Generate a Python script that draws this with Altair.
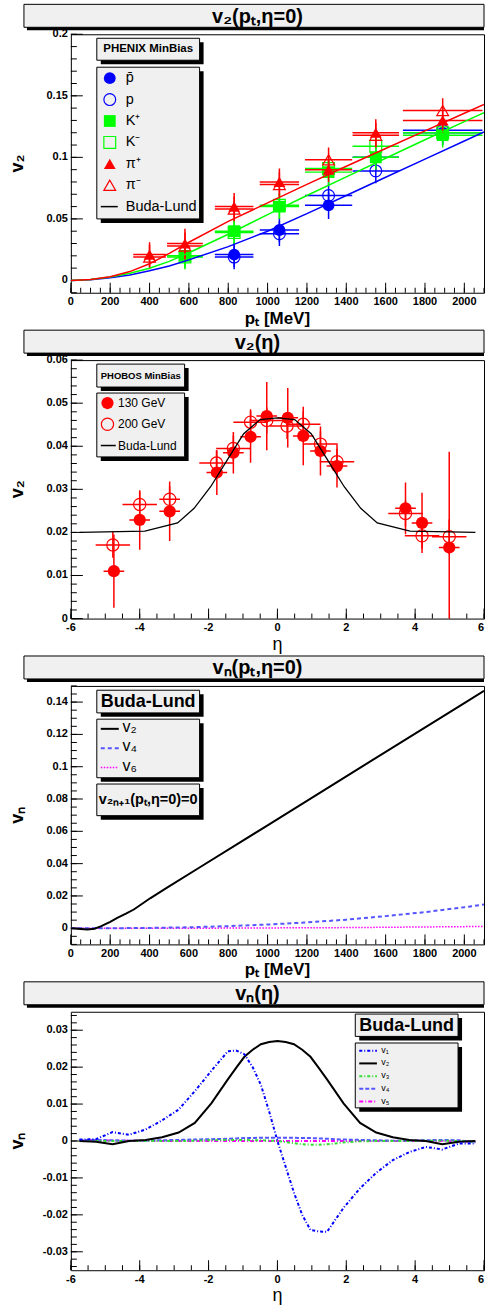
import altair as alt
import pandas as pd

FONT = "Liberation Sans"
W, H = 414, 259
GRAY = "#f0f0f0"
BLUE, GREEN, RED = "#0000ff", "#00ff00", "#ff0000"
ONE = pd.DataFrame({"k": [0]})

# ---------------- Panel 1 : v2(pt, eta=0), PHENIX ----------------
P1_PT = [400, 580, 830, 1060, 1310, 1550, 1890]
P1_PT_ERR = [83, 91, 98, 100, 120, 118, 202]
PIP_V2 = [0.021, 0.030, 0.060, 0.080, 0.090, 0.120, 0.130]
PIP_ERR = [0.010, 0.012, 0.011, 0.011, 0.010, 0.011, 0.010]
PIM_V2 = [0.019, 0.028, 0.058, 0.078, 0.098, 0.118, 0.138]
PIM_ERR = [0.010, 0.011, 0.010, 0.010, 0.010, 0.010, 0.010]
KP_V2 = [0.020, 0.040, 0.060, 0.088, 0.100, 0.118]
KP_ERR = [0.010, 0.010, 0.010, 0.010, 0.010, 0.010]
KM_V2 = [0.019, 0.039, 0.061, 0.091, 0.109, 0.120]
KM_ERR = [0.010, 0.010, 0.010, 0.010, 0.010, 0.010]
PBAR_V2 = [0.021, 0.041, 0.061, 0.100, 0.120]
PBAR_ERR = [0.010, 0.010, 0.011, 0.010, 0.010]
P_V2 = [0.019, 0.038, 0.069, 0.089, 0.122]
P_ERR = [0.010, 0.010, 0.011, 0.010, 0.010]
BL1_PT = [0, 100, 200, 300, 400, 500, 600, 800, 1000, 1200, 1400, 1600, 1800, 2000, 2100]
BL1_PI = [0, 0.0008, 0.003, 0.0072, 0.0135, 0.022, 0.031, 0.048, 0.063, 0.078, 0.0928, 0.1072, 0.1215, 0.1358, 0.143]
BL1_K = [0, 0.0007, 0.0028, 0.0058, 0.0099, 0.0155, 0.0225, 0.0375, 0.0535, 0.069, 0.0842, 0.0993, 0.1143, 0.129, 0.1363]
BL1_P = [0, 0.0005, 0.0022, 0.0045, 0.0078, 0.0118, 0.0167, 0.0275, 0.04, 0.0543, 0.069, 0.0838, 0.0986, 0.1133, 0.1207]
P1_LEGEND = ["p\u0304", "p", "K\u207a", "K\u207b", "\u03c0\u207a", "\u03c0\u207b", "Buda-Lund"]

# ---------------- Panel 2 : v2(eta), PHOBOS ----------------
ETA_130 = [-4.75, -4.0, -3.13, -1.76, -1.28, -0.78, -0.31, 0.30, 0.75, 1.25, 1.73, 3.72, 4.2, 4.99]
V2_130 = [0.0110, 0.0229, 0.0249, 0.0339, 0.0385, 0.0422, 0.0470, 0.0466, 0.0424, 0.0389, 0.0354, 0.0256, 0.0222, 0.0165]
ERR_130 = [0.0085, 0.0069, 0.0069, 0.0052, 0.0048, 0.0060, 0.0079, 0.0069, 0.0068, 0.0057, 0.0050, 0.0060, 0.0070, 0.0222]
ETAERR_130 = [0.3] * 14
ETA_200 = [-4.78, -4.0, -3.13, -1.77, -1.28, -0.78, -0.31, 0.28, 0.75, 1.25, 1.73, 3.72, 4.2, 4.99]
V2_200 = [0.0171, 0.0265, 0.0277, 0.0361, 0.0395, 0.0456, 0.0460, 0.0447, 0.0451, 0.0405, 0.0364, 0.0244, 0.0192, 0.0190]
ERR_200 = [0.003, 0.003, 0.003, 0.003, 0.003, 0.003, 0.003, 0.003, 0.003, 0.003, 0.003, 0.003, 0.003, 0.004]
ETAERR_200 = [0.5, 0.5, 0.3, 0.5, 0.5, 0.5, 0.5, 0.5, 0.5, 0.5, 0.5, 0.5, 0.5, 0.5]
BL2_ETA = [-5.75, -3.85, -2.9, -2.42, -1.94, -1.46, -0.98, -0.5, 0, 0.5, 0.98, 1.46, 1.94, 2.42, 2.9, 3.85, 5.75]
BL2_V2 = [0.0200, 0.0203, 0.0222, 0.0256, 0.0306, 0.0368, 0.0429, 0.0462, 0.0466, 0.0462, 0.0429, 0.0368, 0.0306, 0.0256, 0.0222, 0.0203, 0.0200]
P2_LEGEND = ["130 GeV", "200 GeV", "Buda-Lund"]

# ---------------- Panel 3 : vn(pt, eta=0) ----------------
P3_PT = [0, 50, 84, 120, 152, 200, 236, 280, 320, 405, 489, 658, 1000, 1500, 2000, 2100]
P3_V2 = [0, -0.0004, -0.0008, -0.0003, 0.0012, 0.0040, 0.0064, 0.0090, 0.0116, 0.0187, 0.0251, 0.0379, 0.0637, 0.1016, 0.1394, 0.1470]
P3_PT_B = [0, 200, 400, 600, 800, 1000, 1200, 1400, 1600, 1800, 2000, 2100]
P3_V4 = [0, 0, 0.0002, 0.0006, 0.0013, 0.0023, 0.0036, 0.0053, 0.0075, 0.0100, 0.0130, 0.0147]
P3_V6 = [0, 0, 0, 0, 0.0001, 0.0002, 0.0003, 0.0004, 0.0006, 0.0008, 0.0010, 0.0011]
P3_LEGEND = ["v\u2082", "v\u2084", "v\u2086"]

# ---------------- Panel 4 : vn(eta) ----------------
P4_ETA = [-5.75, -5.27, -4.79, -4.31, -3.83, -3.35, -2.87, -2.4, -1.92, -1.44, -1.2, -0.96, -0.72, -0.48, -0.24, 0,
          0.24, 0.48, 0.72, 0.96, 1.2, 1.44, 1.92, 2.4, 2.87, 3.35, 3.83, 4.31, 4.79, 5.27, 5.75]
P4_V1 = [0.0004, 0.0005, 0.0024, 0.0017, 0.0031, 0.0056, 0.0085, 0.0135, 0.0190, 0.0243, 0.0245, 0.0235, 0.0200, 0.0152, 0.0080, 0.0,
         -0.0070, -0.0140, -0.0200, -0.0241, -0.0245, -0.0246, -0.0181, -0.0128, -0.0086, -0.0052, -0.0030, -0.0016, -0.0023, -0.0007, -0.0007]
P4_V2 = [0, -0.0002, -0.0009, 0.0, 0.0003, 0.0010, 0.0023, 0.0049, 0.0102, 0.0167, 0.0198, 0.0228, 0.0247, 0.0262, 0.0268, 0.0271,
         0.0268, 0.0262, 0.0247, 0.0228, 0.0198, 0.0167, 0.0102, 0.0049, 0.0023, 0.0010, 0.0003, 0.0, -0.0009, -0.0002, 0]
P4_V3 = [0, 0, 0, 0, 0, 0, 0, 0.0001, 0.0002, 0.0003, 0.0003, 0.0003, 0.0002, 0.0002, 0.0001, 0,
         -0.0003, -0.0006, -0.0009, -0.0010, -0.0010, -0.0009, -0.0004, -0.0001, 0, 0, 0, 0.0001, 0.0001, 0, -0.0002]
P4_V4 = [0.0003, 0.0003, 0.0002, 0.0001, 0.0001, 0.0002, 0.0003, 0.0004, 0.0005, 0.0006, 0.0007, 0.0008, 0.0008, 0.0009, 0.0009, 0.0009,
         0.0009, 0.0009, 0.0008, 0.0008, 0.0007, 0.0006, 0.0004, 0.0003, 0.0002, 0.0001, 0.0001, 0.0002, 0.0003, 0.0002, -0.0004]
P4_V5 = [0.0002, 0.0002, 0.0001, 0.0001, 0, 0, 0, 0, 0, 0, 0, 0, 0, 0, 0, 0,
         0, 0, 0, 0, 0, 0, 0, 0, 0, 0, 0, 0, 0, -0.0001, -0.0002]
P4_LEGEND = ["v\u2081", "v\u2082", "v\u2083", "v\u2084", "v\u2085"]

# ---------------- ticks ----------------
PT_MAJ = [0, 200, 400, 600, 800, 1000, 1200, 1400, 1600, 1800, 2000]
PT_MIN = list(range(0, 2101, 50))
ETA_MAJ = [-6, -4, -2, 0, 2, 4, 6]
ETA_MIN = [-6 + 0.5 * i for i in range(25)]
P1_YMAJ = [0, 0.05, 0.1, 0.15, 0.2]
P1_YMIN = [round(-0.01 + 0.01 * i, 3) for i in range(22)]
P2_YMAJ = [0, 0.01, 0.02, 0.03, 0.04, 0.05, 0.06]
P2_YMIN = [round(0.002 * i, 3) for i in range(31)]
P3_YMAJ = [0, 0.02, 0.04, 0.06, 0.08, 0.1, 0.12, 0.14]
P3_YMIN = [round(-0.01 + 0.005 * i, 3) for i in range(33)]
P4_YMAJ = [-0.03, -0.02, -0.01, 0, 0.01, 0.02, 0.03]
P4_YMIN = [round(-0.034 + 0.002 * i, 3) for i in range(35)]


def sc(dom):
    return alt.Scale(domain=dom, nice=False, zero=False)


def X(field, xs):
    return alt.X(field, scale=xs, axis=None)


def Y(field, ys):
    return alt.Y(field, scale=ys, axis=None)


def text(s, x, y, size, bold=False, align="left", baseline="middle", angle=0):
    return alt.Chart(ONE).mark_text(text=s, font=FONT, fontSize=size, fontWeight="bold" if bold else "normal",
                                    align=align, baseline=baseline, color="black", angle=angle).encode(
        x=alt.value(x), y=alt.value(y))


def axis_layers(xs, ys, xmaj, xmin, ymaj, ymin, xtitle, xbold, xsize, ytitle, xedge=None):
    rule = dict(color="black", strokeWidth=1)
    lab = dict(font=FONT, fontSize=11, fontWeight="bold", color="black")
    xm = [v for v in xmaj if v != xedge]
    xe = [v for v in xmaj if v == xedge]
    layers = [
        alt.Chart(pd.DataFrame({"v": xmaj})).mark_rule(**rule).encode(
            x=X("v:Q", xs), y=alt.value(H), y2=alt.value(H - 10)),
        alt.Chart(pd.DataFrame({"v": xmin})).mark_rule(**rule).encode(
            x=X("v:Q", xs), y=alt.value(H), y2=alt.value(H - 5)),
        alt.Chart(pd.DataFrame({"v": ymaj})).mark_rule(**rule).encode(
            y=Y("v:Q", ys), x=alt.value(0), x2=alt.value(12)),
        alt.Chart(pd.DataFrame({"v": ymin})).mark_rule(**rule).encode(
            y=Y("v:Q", ys), x=alt.value(0), x2=alt.value(6)),
        alt.Chart(pd.DataFrame({"v": xm, "t": [f"{v:g}" for v in xm]})).mark_text(
            align="center", baseline="top", **lab).encode(
            x=X("v:Q", xs), y=alt.value(H + 3.5), text="t:N"),
        alt.Chart(pd.DataFrame({"v": ymaj, "t": [f"{v:g}" for v in ymaj]})).mark_text(
            align="right", baseline="middle", **lab).encode(
            y=Y("v:Q", ys), x=alt.value(-3), text="t:N"),
        text(xtitle, W / 2, H + 31, xsize, bold=xbold, align="center", baseline="alphabetic"),
        text(ytitle, -48, H / 2, 18, bold=True, align="center", baseline="alphabetic", angle=270),
    ]
    if xe:
        layers.append(alt.Chart(pd.DataFrame({"v": xe, "t": [f"{v:g}" for v in xe]})).mark_text(
            align="right", baseline="top", **lab).encode(x=X("v:Q", xs), y=alt.value(H + 3.5), text="t:N"))
    return layers


def errs(xs, ys, x, xe, y, ye, color, shape, filled, size=140, sw=1.5):
    df = pd.DataFrame({"x": x, "xlo": [a - b for a, b in zip(x, xe)], "xhi": [a + b for a, b in zip(x, xe)],
                       "y": y, "ylo": [a - b for a, b in zip(y, ye)], "yhi": [a + b for a, b in zip(y, ye)]})
    base = alt.Chart(df)
    h = base.mark_rule(color=color, strokeWidth=sw, clip=True).encode(
        x=X("xlo:Q", xs), x2="xhi:Q", y=Y("y:Q", ys))
    v = base.mark_rule(color=color, strokeWidth=sw, clip=True).encode(
        x=X("x:Q", xs), y=Y("ylo:Q", ys), y2="yhi:Q")
    p = base.mark_point(shape=shape, filled=filled, size=size, color=color, opacity=1,
                        strokeWidth=1.2, clip=True).encode(x=X("x:Q", xs), y=Y("y:Q", ys))
    return [h, v, p]


def curve(xs, ys, x, y, color, sw=1.5, dash=None):
    kw = dict(color=color, strokeWidth=sw, clip=True)
    if dash:
        kw["strokeDash"] = dash
    return alt.Chart(pd.DataFrame({"x": x, "y": y})).mark_line(**kw).encode(
        x=X("x:Q", xs), y=Y("y:Q", ys))


def box(x1, y1, x2, y2, sh=4, right_shadow=True):
    return [
        alt.Chart(ONE).mark_rect(color="black").encode(
            x=alt.value(x1 + sh), x2=alt.value(x2 + sh if right_shadow else x2),
            y=alt.value(y1 + sh), y2=alt.value(y2 + sh)),
        alt.Chart(ONE).mark_rect(fill=GRAY, stroke="black", strokeWidth=1).encode(
            x=alt.value(x1), x2=alt.value(x2), y=alt.value(y1), y2=alt.value(y2)),
    ]


def lmark(x, y, shape, filled, color, size=140):
    return alt.Chart(ONE).mark_point(shape=shape, filled=filled, size=size, color=color, opacity=1,
                                     strokeWidth=1.2).encode(x=alt.value(x), y=alt.value(y))


def lline(x1, x2, y, color, sw=1.5, dash=None):
    kw = dict(color=color, strokeWidth=sw)
    if dash:
        kw["strokeDash"] = dash
    return alt.Chart(ONE).mark_rule(**kw).encode(x=alt.value(x1), x2=alt.value(x2), y=alt.value(y))


def title_layers(s):
    return box(-47, -30, W, -7, sh=3, right_shadow=False) + [
        text(s, 187, -11.5, 20, bold=True, align="center", baseline="alphabetic")]


# ================= Panel 1 =================
xs1, ys1 = sc([0, 2100]), sc([-0.01, 0.2])
L = [alt.Chart(ONE).mark_rect(opacity=0).encode(x=alt.value(-70), x2=alt.value(-69),
                                                  y=alt.value(-32), y2=alt.value(-31))]
L += axis_layers(xs1, ys1, PT_MAJ, PT_MIN, P1_YMAJ, P1_YMIN, "p\u209c [MeV]", True, 17, "v\u2082")
L += errs(xs1, ys1, P1_PT[2:], P1_PT_ERR[2:], PBAR_V2, PBAR_ERR, BLUE, "circle", True)
L += errs(xs1, ys1, P1_PT[2:], P1_PT_ERR[2:], P_V2, P_ERR, BLUE, "circle", False)
L += errs(xs1, ys1, P1_PT[1:], P1_PT_ERR[1:], KP_V2, KP_ERR, GREEN, "square", True)
L += errs(xs1, ys1, P1_PT[1:], P1_PT_ERR[1:], KM_V2, KM_ERR, GREEN, "square", False)
L += errs(xs1, ys1, P1_PT, P1_PT_ERR, PIP_V2, PIP_ERR, RED, "triangle-up", True)
L += errs(xs1, ys1, P1_PT, P1_PT_ERR, PIM_V2, PIM_ERR, RED, "triangle-up", False)
L.append(curve(xs1, ys1, BL1_PT, BL1_P, BLUE))
L.append(curve(xs1, ys1, BL1_PT, BL1_K, GREEN))
L.append(curve(xs1, ys1, BL1_PT, BL1_PI, RED))
L += title_layers("v\u2082(p\u209c,\u03b7=0)")
L += box(26, 4, 129, 26)
L.append(text("PHENIX MinBias", 77.5, 15, 11.5, bold=True, align="center"))
L += box(26, 33, 129, 185)
specs1 = [("circle", True, BLUE), ("circle", False, BLUE), ("square", True, GREEN),
          ("square", False, GREEN), ("triangle-up", True, RED), ("triangle-up", False, RED)]
for i, lab in enumerate(P1_LEGEND):
    yy = 44 + i * 21.45
    if i < 6:
        shp, fil, col = specs1[i]
        L.append(lmark(39, yy, shp, fil, col))
    else:
        L.append(lline(30, 47, yy, "black"))
    L.append(text(lab, 55, yy, 14.5))
p1 = alt.layer(*L).properties(width=W, height=H)

# ================= Panel 2 =================
xs2, ys2 = sc([-6, 6]), sc([0, 0.06])
L = axis_layers(xs2, ys2, ETA_MAJ, ETA_MIN, P2_YMAJ, P2_YMIN, "\u03b7", False, 18, "v\u2082", xedge=6)
L += errs(xs2, ys2, ETA_130, ETAERR_130, V2_130, ERR_130, RED, "circle", True, size=150)
L += errs(xs2, ys2, ETA_200, ETAERR_200, V2_200, ERR_200, RED, "circle", False, size=150)
L.append(curve(xs2, ys2, BL2_ETA, BL2_V2, "black", sw=1.3))
L += title_layers("v\u2082(\u03b7)")
L += box(26, 4, 114, 27)
L.append(text("PHOBOS MinBias", 70, 15.5, 9.5, bold=True, align="center"))
L += box(26, 33, 114, 97)
for i, lab in enumerate(P2_LEGEND):
    yy = 43 + i * 21.3
    if i == 0:
        L.append(lmark(36.7, yy, "circle", True, RED, size=150))
    elif i == 1:
        L.append(lmark(36.7, yy, "circle", False, RED, size=150))
    else:
        L.append(lline(30, 45, yy, "black"))
    L.append(text(lab, 47.3, yy, 12))
p2 = alt.layer(*L).properties(width=W, height=H)

# ================= Panel 3 =================
xs3, ys3 = sc([0, 2100]), sc([-0.01, 0.15])
L = axis_layers(xs3, ys3, PT_MAJ, PT_MIN, P3_YMAJ, P3_YMIN, "p\u209c [MeV]", True, 17, "v\u2099")
L.append(curve(xs3, ys3, P3_PT_B, P3_V6, "#ff00ff", sw=1.5, dash=[1.5, 1.5]))
L.append(curve(xs3, ys3, P3_PT_B, P3_V4, "#5555ff", sw=2, dash=[4, 3]))
L.append(curve(xs3, ys3, P3_PT, P3_V2, "black", sw=2))
L += title_layers("v\u2099(p\u209c,\u03b7=0)")
L += box(26, 4.3, 129, 27)
L.append(text("Buda-Lund", 77.5, 16, 18, bold=True, align="center"))
L += box(26, 33.3, 129, 92)
p3_styles = [("black", None, 2), ("#5555ff", [4, 3], 2), ("#ff00ff", [1.5, 1.5], 1.5)]
for i, lab in enumerate(P3_LEGEND):
    yy = 43 + i * 19.4
    col, dash, sw = p3_styles[i]
    L.append(lline(30, 48, yy, col, sw=sw, dash=dash))
    L.append(text(lab, 51.7, yy - 2, 16))
L += box(26, 98.3, 129, 130)
L.append(text("v\u2082\u2099\u208a\u2081(p\u209c,\u03b7=0)=0", 77.5, 114, 14.5, bold=True, align="center"))
p3 = alt.layer(*L).properties(width=W, height=H)

# ================= Panel 4 =================
xs4, ys4 = sc([-6, 6]), sc([-0.035, 0.035])
L = axis_layers(xs4, ys4, ETA_MAJ, ETA_MIN, P4_YMAJ, P4_YMIN, "\u03b7", False, 18, "v\u2099", xedge=6)
p4_styles = [(BLUE, [3, 2, 1, 2], 2), ("black", None, 2), ("#33dd33", [3, 2, 1, 2], 2),
             ("#5555ff", [4, 2], 2), ("#ff00ff", [4, 2, 1, 2], 2)]
p4_series = [P4_V5, P4_V4, P4_V3, P4_V2, P4_V1]
for ser, sty in zip(p4_series, p4_styles[::-1]):
    col, dash, sw = sty
    L.append(curve(xs4, ys4, P4_ETA, ser, col, sw=sw, dash=dash))
L += title_layers("v\u2099(\u03b7)")
L += box(285, 2.3, 388, 24.7)
L.append(text("Buda-Lund", 336.5, 14, 18, bold=True, align="center"))
L += box(285, 31.3, 388, 96.3)
for i, lab in enumerate(P4_LEGEND):
    yy = 38 + i * 12.75
    col, dash, sw = p4_styles[i]
    L.append(lline(289, 306.7, yy + 1, col, sw=sw, dash=dash))
    L.append(text(lab, 311, yy, 9))
p4 = alt.layer(*L).properties(width=W, height=H)

chart = alt.vconcat(p1, p2, p3, p4, spacing=67.5, bounds="flush").properties(
    padding=0, background="white"
).configure_view(stroke="black", strokeWidth=1)

chart.save("out.html", embed_options={"renderer": "svg", "actions": False})
